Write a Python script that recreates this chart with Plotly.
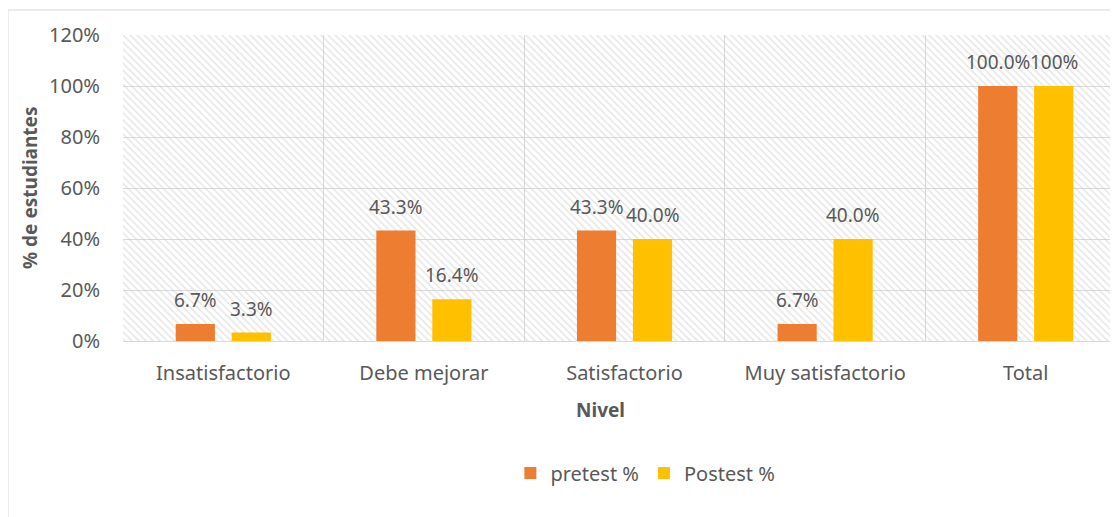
import plotly.graph_objects as go

niveles = ["Insatisfactorio", "Debe mejorar", "Satisfactorio", "Muy satisfactorio", "Total"]
pretest = [6.7, 43.3, 43.3, 6.7, 100.0]
postest = [3.3, 16.4, 40.0, 40.0, 100.0]
pretest_labels = ["6.7%", "43.3%", "43.3%", "6.7%", "100.0%"]
postest_labels = ["3.3%", "16.4%", "40.0%", "40.0%", "100%"]
y_ticks = [0, 20, 40, 60, 80, 100, 120]

FONT = "Noto Sans"
TXT = "#595959"
GRID = "#D9D9D9"
ORANGE = "#ED7D31"
YELLOW = "#FFC000"

fig = go.Figure()

# hatched plot background, drawn on the base subplot so it stays under the bars
fig.add_trace(
    go.Bar(
        x=[0.5],
        y=[120],
        width=[1],
        xaxis="x",
        yaxis="y",
        marker=dict(
            color="rgba(0,0,0,0)",
            line=dict(width=0),
            pattern=dict(shape="\\", fgcolor="#CDCDCD", bgcolor="rgba(0,0,0,0)", size=5, solidity=0.3),
        ),
        showlegend=False,
        hoverinfo="skip",
    )
)

fig.add_trace(
    go.Bar(
        x=niveles,
        y=pretest,
        name="pretest %",
        xaxis="x2",
        yaxis="y2",
        marker=dict(color=ORANGE, line=dict(width=0)),
    )
)
fig.add_trace(
    go.Bar(
        x=niveles,
        y=postest,
        name="Postest %",
        xaxis="x2",
        yaxis="y2",
        marker=dict(color=YELLOW, line=dict(width=0)),
    )
)

# data labels
for cat, v, lab in zip(niveles, pretest, pretest_labels):
    fig.add_annotation(x=cat, y=v, xref="x2", yref="y2", text=lab, showarrow=False,
                       xshift=-28, yshift=24, yanchor="middle",
                       font=dict(family=FONT, size=19, color=TXT))
for cat, v, lab in zip(niveles, postest, postest_labels):
    fig.add_annotation(x=cat, y=v, xref="x2", yref="y2", text=lab, showarrow=False,
                       xshift=28, yshift=24, yanchor="middle",
                       font=dict(family=FONT, size=19, color=TXT))

# axis titles
fig.add_annotation(x=-0.0935, y=0.5, xref="paper", yref="paper", text="<b>% de estudiantes</b>",
                   textangle=-90, showarrow=False, xanchor="center", yanchor="middle",
                   font=dict(family=FONT, size=19, color=TXT))
fig.add_annotation(x=0.4804, y=-0.2255, xref="paper", yref="paper", text="<b>Nivel</b>",
                   showarrow=False, xanchor="center", yanchor="middle",
                   font=dict(family=FONT, size=19, color=TXT))

# chart border
fig.add_shape(type="rect", xref="paper", yref="paper", x0=-0.1156, y0=-0.58, x1=1.01, y1=1.0817,
              line=dict(color=GRID, width=1), layer="below")

# page body has an 8px margin, so the figure is a bit smaller and shifted
fig.update_layout(
    width=1110,
    height=509,
    margin=dict(l=115, r=0, t=27, b=176),
    paper_bgcolor="white",
    plot_bgcolor="white",
    barmode="group",
    bargap=0.442,
    bargroupgap=0.30,
    font=dict(family=FONT, size=20, color=TXT),
    xaxis=dict(range=[0, 1], visible=False, fixedrange=True),
    yaxis=dict(range=[0, 120], visible=False, fixedrange=True),
    xaxis2=dict(
        overlaying="x",
        type="category",
        range=[-0.5, 4.46],
        tickson="boundaries",
        ticks="",
        showgrid=True,
        gridcolor=GRID,
        gridwidth=1,
        showline=False,
        zeroline=False,
        ticklabelstandoff=18,
        tickfont=dict(family=FONT, size=20, color=TXT),
    ),
    yaxis2=dict(
        overlaying="y",
        range=[0, 120],
        tickvals=y_ticks,
        ticktext=[f"{t}%" for t in y_ticks],
        showgrid=True,
        gridcolor=GRID,
        gridwidth=1,
        zeroline=True,
        zerolinecolor=GRID,
        zerolinewidth=1,
        ticks="",
        ticklabelstandoff=22,
        tickfont=dict(family=FONT, size=20, color=TXT),
    ),
    legend=dict(
        orientation="h",
        x=0.525,
        xanchor="center",
        y=-0.431,
        yanchor="middle",
        font=dict(family=FONT, size=20, color=TXT),
        itemwidth=30,
        traceorder="normal",
    ),
)

fig.write_html("out.html")
